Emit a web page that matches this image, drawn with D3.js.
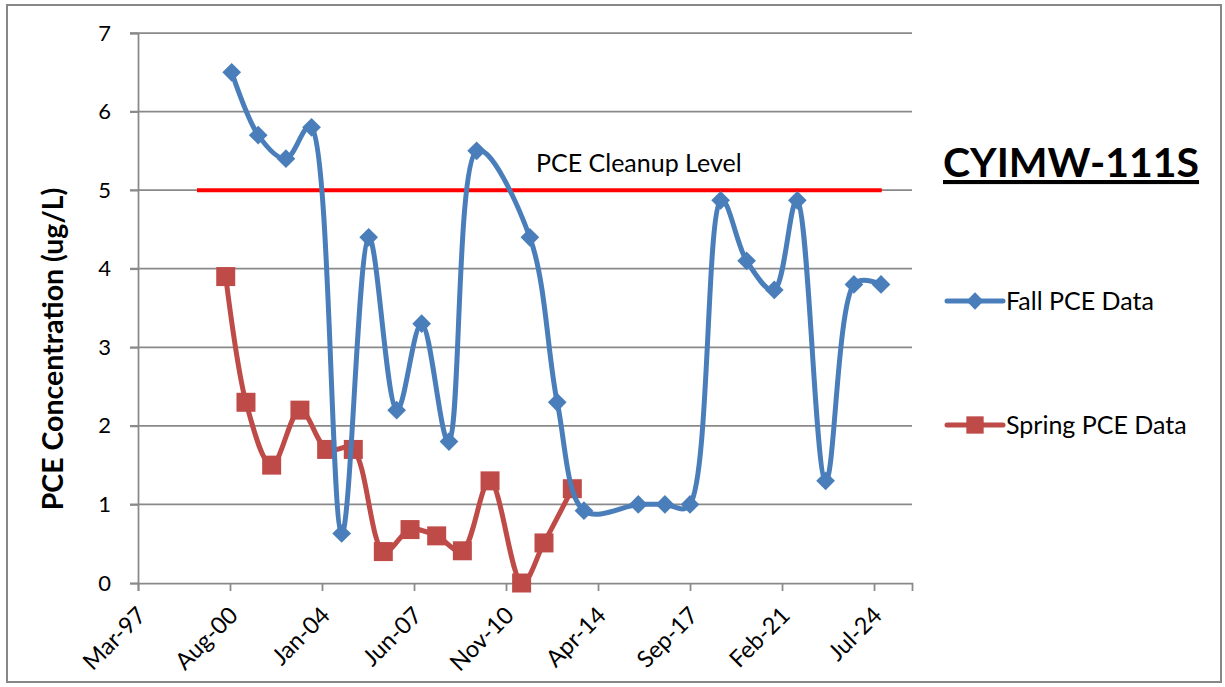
<!DOCTYPE html>
<html>
<head>
<meta charset="utf-8">
<script src="https://cdn.jsdelivr.net/npm/d3@7"></script>
<style>
    body { margin: 0; background: #fff; }
    text { font-family: Lato, 'Open Sans', sans-serif; fill: #000; }
</style>
</head>
<body>
<div class="canvas"></div>
<script>
// ---- data ----
const fallDates = [
    '2000-08-25', '2001-08-20', '2002-09-01', '2003-08-15', '2004-09-27', '2005-09-29',
    '2006-10-14', '2007-09-19', '2008-09-24', '2009-10-05', '2011-09-28', '2012-10-04',
    '2013-10-02', '2015-10-10', '2016-10-06', '2017-09-12', '2018-11-02', '2019-10-21',
    '2020-10-31', '2021-09-09', '2022-09-28', '2023-10-18', '2024-10-20'
];
const fallValues = [
    6.5, 5.7, 5.4, 5.8, 0.63, 4.4,
    2.2, 3.3, 1.8, 5.5, 4.4, 2.3,
    0.92, 1.0, 1.0, 1.0, 4.87, 4.1,
    3.73, 4.87, 1.3, 3.8, 3.8
];

const springDates = [
    '2000-06-05', '2001-03-07', '2002-02-19', '2003-03-10', '2004-03-07', '2005-03-04',
    '2006-04-16', '2007-04-14', '2008-04-10', '2009-03-25', '2010-04-05', '2011-06-08',
    '2012-04-07', '2013-04-27'
];
const springValues = [
    3.9, 2.3, 1.5, 2.2, 1.7, 1.7,
    0.4, 0.68, 0.6, 0.41, 1.3, 0.0,
    0.51, 1.2
];

const cleanupDates = ['1999-05-11', '2024-10-30'];
const cleanupValues = [5, 5];

const xDomainDates = ['1997-03-01', '2025-12-15'];
const xTickStepDays = 1250;
const xTickCount = 9;
const yTicks = [0, 1, 2, 3, 4, 5, 6, 7];

const seriesNames = ['Fall PCE Data', 'Spring PCE Data'];
const chartTitle = 'CYIMW-111S';
const yTitle = 'PCE Concentration (ug/L)';
const cleanupLabel = 'PCE Cleanup Level';

// ---- layout ----
const dims = {
    width: 1225,
    height: 687,
    left: 138,
    right: 912,
    top: 33,
    bottom: 583,
    lineWidth: 5,
    gridColour: '#898989'
};

const colours = {
    fall: '#4A7EBB',
    spring: '#BE4B48',
    cleanup: '#FF0000'
};

const parseDate = d3.utcParse('%Y-%m-%d');

const svg = d3.select('.canvas')
    .append('svg')
    .attr('width', dims.width)
    .attr('height', dims.height);

// outer chart border
svg.append('rect')
    .attr('x', 7)
    .attr('y', 5)
    .attr('width', 1214)
    .attr('height', 677)
    .attr('fill', '#fff')
    .attr('stroke', '#878787')
    .attr('stroke-width', 2);

const x = d3.scaleUtc()
    .domain(xDomainDates.map(parseDate))
    .range([dims.left, dims.right]);

const y = d3.scaleLinear()
    .domain([0, 7])
    .range([dims.bottom, dims.top]);

const xTickValues = d3.range(xTickCount)
    .map(i => d3.utcDay.offset(x.domain()[0], i * xTickStepDays));

// gridlines
svg.append('g')
    .attr('class', 'grid')
    .selectAll('line')
    .data(yTicks.filter(t => t > 0))
    .enter()
    .append('line')
    .attr('x1', dims.left - 8)
    .attr('x2', dims.right)
    .attr('y1', d => y(d))
    .attr('y2', d => y(d))
    .attr('stroke', dims.gridColour)
    .attr('stroke-width', 1.75);

// y axis
const yAxis = svg.append('g')
    .attr('transform', `translate(${dims.left},0)`)
    .call(d3.axisLeft(y).tickValues(yTicks).tickSize(8).tickPadding(19).tickFormat(d3.format('d')));

// x axis
const xAxis = svg.append('g')
    .attr('transform', `translate(0,${dims.bottom})`)
    .call(d3.axisBottom(x).tickValues(xTickValues).tickSize(8).tickFormat(d3.utcFormat('%b-%y')));

[xAxis, yAxis].forEach(axis => {
    axis.select('.domain').attr('stroke', dims.gridColour).attr('stroke-width', 1.75);
    axis.selectAll('.tick line').attr('stroke', dims.gridColour).attr('stroke-width', 1.75);
    axis.selectAll('text')
        .style('font-family', 'Lato, sans-serif')
        .style('font-size', '22px')
        .attr('fill', '#000');
});

xAxis.selectAll('.tick text')
    .style('font-size', '23.5px')
    .attr('text-anchor', 'end')
    .attr('y', 0)
    .attr('dy', '0.35em')
    .attr('transform', 'translate(3,28) rotate(-45)');

// y axis title
svg.append('text')
    .attr('transform', 'translate(63,349) rotate(-90)')
    .attr('text-anchor', 'middle')
    .style('font-size', '28.5px')
    .style('font-weight', 'bold')
    .text(yTitle);

// cleanup level line
const cleanupData = cleanupDates.map((d, i) => ({ date: parseDate(d), value: cleanupValues[i] }));
const straightLine = d3.line()
    .x(d => x(d.date))
    .y(d => y(d.value));

svg.append('path')
    .datum(cleanupData)
    .attr('fill', 'none')
    .attr('stroke', colours.cleanup)
    .attr('stroke-width', 4)
    .attr('d', straightLine);

svg.append('text')
    .attr('x', 536)
    .attr('y', 172)
    .style('font-size', '25px')
    .text(cleanupLabel);

// series (smoothed like Excel)
const smoothLine = d3.line()
    .curve(d3.curveCatmullRom.alpha(0.4))
    .x(d => x(d.date))
    .y(d => y(d.value));

const series = [
    {
        name: seriesNames[0],
        colour: colours.fall,
        symbol: d3.symbol().type(d3.symbolSquare).size(175),
        rotate: 45,
        data: fallDates.map((d, i) => ({ date: parseDate(d), value: fallValues[i] }))
    },
    {
        name: seriesNames[1],
        colour: colours.spring,
        symbol: d3.symbol().type(d3.symbolSquare).size(361),
        rotate: 0,
        data: springDates.map((d, i) => ({ date: parseDate(d), value: springValues[i] }))
    }
];

// draw spring underneath fall
series.slice().reverse().forEach(s => {
    const g = svg.append('g').attr('class', 'series');
    g.append('path')
        .datum(s.data)
        .attr('fill', 'none')
        .attr('stroke', s.colour)
        .attr('stroke-width', dims.lineWidth)
        .attr('stroke-linejoin', 'round')
        .attr('d', smoothLine);
    g.selectAll('.marker')
        .data(s.data)
        .enter()
        .append('path')
        .attr('class', 'marker')
        .attr('fill', s.colour)
        .attr('transform', d => `translate(${x(d.date)},${y(d.value)}) rotate(${s.rotate})`)
        .attr('d', s.symbol);
});

// chart title
svg.append('text')
    .attr('x', 943)
    .attr('y', 177)
    .style('font-size', '41px')
    .style('font-weight', 'bold')
    .style('text-decoration', 'underline')
    .text(chartTitle);

// legend
const legend = svg.append('g')
    .selectAll('g')
    .data(series)
    .enter()
    .append('g')
    .attr('transform', (d, i) => `translate(947,${i === 0 ? 301 : 425})`);

legend.append('line')
    .attr('x1', 0)
    .attr('x2', 56)
    .attr('stroke', d => d.colour)
    .attr('stroke-width', dims.lineWidth)
    .attr('stroke-linecap', 'round');

legend.append('path')
    .attr('fill', d => d.colour)
    .attr('transform', d => `translate(28,0) rotate(${d.rotate})`)
    .attr('d', d => d.symbol.size(d.rotate ? 150 : 300)());

legend.append('text')
    .attr('x', 59)
    .attr('dy', '0.35em')
    .style('font-size', '25px')
    .text(d => d.name);
</script>
</body>
</html>
